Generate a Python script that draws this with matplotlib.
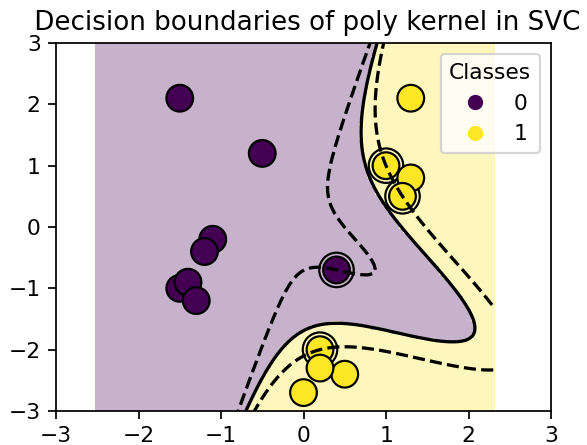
import numpy as np
import matplotlib
matplotlib.use("Agg")
import matplotlib.pyplot as plt

# ---- data (sklearn SVM kernels example) ----
x0 = [0.4, -1.5, -1.4, -1.3, -1.1, -1.2, -0.5, -1.5,
      1.0, 1.3, 1.2, 0.2, 0.5, 0.2, 0.0, 1.3]
x1 = [-0.7, -1.0, -0.9, -1.2, -0.2, -0.4, 1.2, 2.1,
      1.0, 0.8, 0.5, -2.0, -2.4, -2.3, -2.7, 2.1]
labels = [0, 0, 0, 0, 0, 0, 0, 0, 1, 1, 1, 1, 1, 1, 1, 1]
class_names = ["0", "1"]

X = np.column_stack([x0, x1])
y = np.array(labels)

# ---- SVC with polynomial kernel (gamma=2, degree=3, coef0=0, C=1) ----
GAMMA, DEGREE, COEF0, C = 2.0, 3, 0.0, 1.0


def kern(A, B):
    return (GAMMA * A @ B.T + COEF0) ** DEGREE


def fit_svc(X, y01, C=1.0, tol=1e-4, max_iter=200000):
    ys = np.where(y01 == 1, 1.0, -1.0)
    K = kern(X, X)
    Q = ys[:, None] * ys[None, :] * K
    n = len(ys)
    a = np.zeros(n)
    G = -np.ones(n)
    for _ in range(max_iter):
        up = ((ys > 0) & (a < C)) | ((ys < 0) & (a > 0))
        low = ((ys > 0) & (a > 0)) | ((ys < 0) & (a < C))
        v = -ys * G
        i = int(np.argmax(np.where(up, v, -np.inf)))
        j = int(np.argmin(np.where(low, v, np.inf)))
        if v[i] - v[j] < tol:
            break
        quad = K[i, i] + K[j, j] - 2 * K[i, j]
        if quad <= 0:
            quad = 1e-12
        t = (v[i] - v[j]) / quad
        tmax_i = C - a[i] if ys[i] > 0 else a[i]
        tmax_j = a[j] if ys[j] > 0 else C - a[j]
        t = min(t, tmax_i, tmax_j)
        di = ys[i] * t
        dj = -ys[j] * t
        a[i] += di
        a[j] += dj
        G += Q[:, i] * di + Q[:, j] * dj
    free = (a > 1e-12) & (a < C - 1e-12)
    if free.any():
        rho = np.mean(ys[free] * G[free])
    else:
        v = -ys * G
        rho = -0.5 * (v.max() + v.min())
    sv = a > 1e-10
    return a[sv] * ys[sv], X[sv], rho


coef, SV, rho = fit_svc(X, y, C=C)


def decision(P):
    return kern(P, SV) @ coef - rho


# grid as in DecisionBoundaryDisplay (eps=1, 100 points)
g0 = np.linspace(X[:, 0].min() - 1, X[:, 0].max() + 1, 100)
g1 = np.linspace(X[:, 1].min() - 1, X[:, 1].max() + 1, 100)
xx0, xx1 = np.meshgrid(g0, g1)
Z = decision(np.column_stack([xx0.ravel(), xx1.ravel()])).reshape(xx0.shape)
pred = (Z > 0).astype(int)

# ---- plot ----
DPI = 157
fig = plt.figure(figsize=(587 / DPI, 445 / DPI), dpi=DPI)
ax = fig.add_axes([56 / 587, 1 - 411 / 445, 495 / 587, 368 / 445])
ax.set(xlim=(-3, 3), ylim=(-3, 3))

ax.pcolormesh(xx0, xx1, pred, cmap="viridis", alpha=0.3, shading="auto")
ax.contour(xx0, xx1, Z, levels=[-1, 0, 1], colors=["k", "k", "k"],
           linestyles=["--", "-", "--"])

ax.scatter(SV[:, 0], SV[:, 1], s=250, facecolors="none", edgecolors="k")
sc = ax.scatter(X[:, 0], X[:, 1], c=y, s=150, edgecolors="k")
handles, _ = sc.legend_elements()
ax.legend(handles, class_names, loc="upper right", title="Classes")
ax.set_title(" Decision boundaries of poly kernel in SVC")

fig.savefig("out.png", dpi=DPI)
